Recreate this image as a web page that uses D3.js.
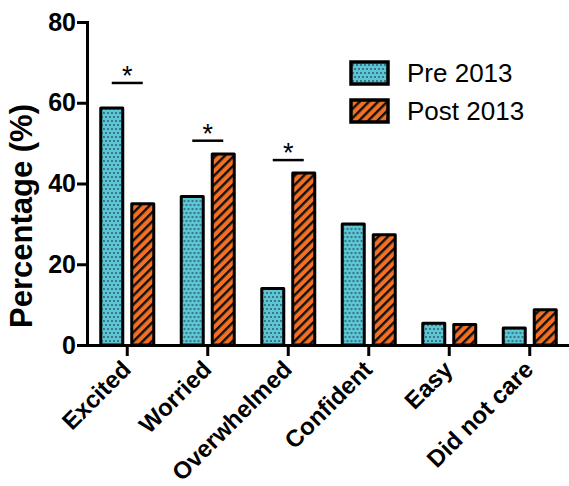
<!DOCTYPE html>
<html>
<head>
<meta charset="utf-8">
<script src="https://cdn.jsdelivr.net/npm/d3@7"></script>
<style>
  body { margin: 0; background: #fff; }
  svg { display: block; }
  text { font-family: "Liberation Sans", Arial, Helvetica, sans-serif; }
</style>
</head>
<body>
<div id="chart"></div>
<script>
const categories = ['Excited', 'Worried', 'Overwhelmed', 'Confident', 'Easy', 'Did not care'];
const seriesNames = ['Pre 2013', 'Post 2013'];
const pre2013 = [58.7, 36.8, 14.0, 30.0, 5.4, 4.2];
const post2013 = [35.0, 47.3, 42.6, 27.3, 5.1, 8.7];
const yTicks = [0, 20, 40, 60, 80];
// significance brackets: category and height (in %)
const sigCats = ['Excited', 'Worried', 'Overwhelmed'];
const sigLevels = [64.9, 50.6, 45.8];

const width = 569, height = 486;
const margin = { top: 22, right: 0, bottom: 141, left: 87 };

const svg = d3.select('#chart').append('svg')
  .attr('width', width)
  .attr('height', height);

const defs = svg.append('defs');

// dotted cyan
const dots = defs.append('pattern')
  .attr('id', 'dots')
  .attr('patternUnits', 'userSpaceOnUse')
  .attr('width', 4).attr('height', 8);
dots.append('rect').attr('width', 4).attr('height', 8).attr('fill', '#5cc6d7');
dots.append('circle').attr('cx', 1).attr('cy', 1).attr('r', 0.8).attr('fill', '#111');
dots.append('circle').attr('cx', 3).attr('cy', 5).attr('r', 0.8).attr('fill', '#111');

// striped orange
const stripes = defs.append('pattern')
  .attr('id', 'stripes')
  .attr('patternUnits', 'userSpaceOnUse')
  .attr('width', 6.5).attr('height', 6.5)
  .attr('patternTransform', 'rotate(45)');
stripes.append('rect').attr('width', 6.5).attr('height', 6.5).attr('fill', '#f36f21');
stripes.append('rect').attr('width', 2.4).attr('height', 6.5).attr('fill', '#111');

const fills = ['url(#dots)', 'url(#stripes)'];

const x0 = d3.scaleBand()
  .domain(categories)
  .range([margin.left, 570]);

const x1 = d3.scaleBand()
  .domain(seriesNames)
  .range([x0.bandwidth() / 2 - 26.5, x0.bandwidth() / 2 + 26.5])
  .paddingInner(0.29);

const y = d3.scaleLinear()
  .domain([0, 80])
  .range([height - margin.bottom, margin.top]);

const rows = categories.map((c, i) => ({ cat: c, values: [pre2013[i], post2013[i]] }));

// bars
const groups = svg.append('g').selectAll('g')
  .data(rows)
  .join('g')
  .attr('transform', d => 'translate(' + x0(d.cat) + ',0)');

groups.selectAll('rect')
  .data(d => d.values.map((v, j) => ({ key: seriesNames[j], value: v, j: j })))
  .join('rect')
  .attr('x', d => x1(d.key))
  .attr('y', d => y(d.value))
  .attr('width', x1.bandwidth())
  .attr('height', d => y(0) - y(d.value))
  .attr('fill', d => fills[d.j])
  .attr('stroke', '#000')
  .attr('stroke-width', 3)
  .attr('stroke-linejoin', 'round');

// y axis
const yAxis = svg.append('g')
  .attr('transform', 'translate(' + margin.left + ',0)')
  .call(d3.axisLeft(y).tickValues(yTicks).tickSize(10).tickSizeOuter(0).tickPadding(1));
yAxis.select('.domain').attr('stroke-width', 3).attr('stroke-linecap', 'square');
yAxis.selectAll('.tick line').attr('stroke-width', 3);
yAxis.selectAll('.tick text')
  .attr('font-size', 25).attr('font-weight', 'bold').attr('fill', '#000')
  .attr('font-family', '"Liberation Sans", Arial, sans-serif');

// x axis
const xAxis = svg.append('g')
  .attr('transform', 'translate(0,' + y(0) + ')')
  .call(d3.axisBottom(x0).tickSize(11).tickSizeOuter(0));
xAxis.select('.domain').attr('stroke-width', 3).attr('stroke-linecap', 'square');
xAxis.selectAll('.tick line').attr('stroke-width', 3);
xAxis.selectAll('.tick text')
  .attr('font-size', 24).attr('font-weight', 'bold').attr('fill', '#000')
  .attr('font-family', '"Liberation Sans", Arial, sans-serif')
  .attr('text-anchor', 'end')
  .attr('y', 0)
  .attr('dy', 0)
  .attr('transform', 'translate(5,26) rotate(-45)');

// y label
svg.append('text')
  .attr('transform', 'translate(32,216) rotate(-90)')
  .attr('text-anchor', 'middle')
  .attr('font-size', 31)
  .attr('font-weight', 'bold')
  .text('Percentage (%)');

// significance
const sig = svg.append('g');
sigCats.forEach((c, i) => {
  const cx = x0(c) + x0.bandwidth() / 2;
  const x1a = x0(c) + x1(seriesNames[0]) + x1.bandwidth() / 2;
  const x1b = x0(c) + x1(seriesNames[1]) + x1.bandwidth() / 2;
  sig.append('line')
    .attr('x1', x1a).attr('x2', x1b)
    .attr('y1', y(sigLevels[i])).attr('y2', y(sigLevels[i]))
    .attr('stroke', '#000').attr('stroke-width', 2.5);
  sig.append('text')
    .attr('x', cx).attr('y', y(sigLevels[i]) + 2)
    .attr('text-anchor', 'middle')
    .attr('font-size', 27)
    .text('*');
});

// legend
const legend = svg.append('g');
seriesNames.forEach((s, i) => {
  const ly = 62 + i * 38;
  legend.append('rect')
    .attr('x', 351).attr('y', ly)
    .attr('width', 37).attr('height', 22)
    .attr('fill', fills[i])
    .attr('stroke', '#000').attr('stroke-width', 3.5);
  legend.append('text')
    .attr('x', 407).attr('y', ly + 20)
    .attr('font-size', 26)
    .text(s);
});
</script>
</body>
</html>
